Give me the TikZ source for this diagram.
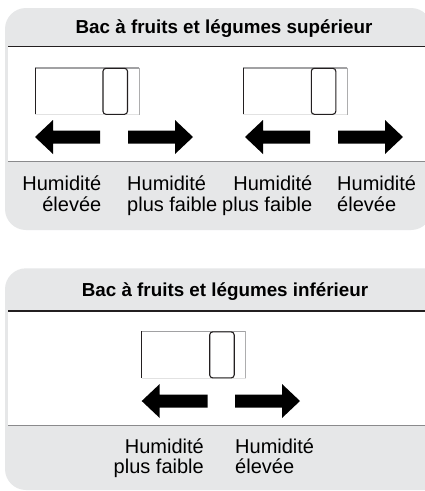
\documentclass[tikz,border=0pt]{standalone}
\usepackage{fontspec}
\setmainfont{Liberation Sans}
\definecolor{panelgray}{HTML}{E6E7E8}
\definecolor{darkline}{HTML}{231F20}
\definecolor{softline}{HTML}{8A8A8C}
\newcommand\mysliderbox[2]{%
  \draw[softline!80, line width=1.6pt] (#1,#2) -- ++(104,0);
  \draw[darkline, line width=0.7pt] (#1,#2) -- ++(0,47);
  \draw[softline!70, line width=0.7pt] (#1+104,#2) -- ++(0,47);
  \draw[softline!25, line width=0.6pt] (#1,#2+47) -- ++(104,0);
  \draw[darkline, line width=1.1pt, rounded corners=3pt] (#1+68,#2+0.6) rectangle (#1+92.5,#2+46.6);
}
\newcommand\myleftarrow[3]{% tip x, tail x, center y
  \fill[black] (#1,#3) -- (#1+18,#3-17) -- (#1+18,#3-6.5) -- (#2,#3-6.5) -- (#2,#3+6.5) -- (#1+18,#3+6.5) -- (#1+18,#3+17) -- cycle;
}
\newcommand\myrightarrow[3]{% tail x, tip x, center y
  \fill[black] (#2,#3) -- (#2-18,#3-17) -- (#2-18,#3-6.5) -- (#1,#3-6.5) -- (#1,#3+6.5) -- (#2-18,#3+6.5) -- (#2-18,#3+17) -- cycle;
}
\begin{document}
\begin{tikzpicture}[x=1pt,y=-1pt,
  title/.style={font=\bfseries\fontsize{18.8}{20}\selectfont, inner sep=0pt, anchor=base},
  lbl/.style={font=\fontsize{20}{20.3}\selectfont, inner sep=0pt},
  lblr/.style={lbl, align=right, anchor=base east},
  lbll/.style={lbl, align=left, anchor=base west}]
\useasboundingbox (0,0) rectangle (425,491);
\fill[white] (0,0) rectangle (425,491);
% top panel
\fill[panelgray, rounded corners=21pt] (5,8) rectangle (432,230);
\fill[white] (8,46.7) rectangle (432,161);
\draw[darkline, line width=1.1pt] (8,46.7) -- (432,46.7);
\draw[softline, line width=0.9pt] (8,161) -- (432,161);
\node[title] (t1) at (224,33.5) {Bac à fruits et légumes supérieur};
\mysliderbox{35}{67.7}
\mysliderbox{243.3}{67.7}
\myleftarrow{35}{100}{137}
\myrightarrow{128}{193}{137}
\myleftarrow{245}{310}{137}
\myrightarrow{338}{403}{137}
\node[lblr] (l1) at (101.5,211) {Humidité\\élevée};
\node[lbll] (l2) at (127,211) {Humidité\\plus faible};
\node[lblr] (l3) at (312.5,211) {Humidité\\plus faible};
\node[lbll] (l4) at (337,211) {Humidité\\élevée};
% bottom panel
\fill[panelgray, rounded corners=21pt] (5,268.3) rectangle (460,490);
\fill[white] (8,311) rectangle (460,425.7);
\draw[darkline, line width=1.1pt] (8,311) -- (460,311);
\draw[softline, line width=0.9pt] (8,425.7) -- (460,425.7);
\node[title] (t2) at (225,296.7) {Bac à fruits et légumes inférieur};
\mysliderbox{141.7}{331.3}
\myleftarrow{141.7}{207.7}{401}
\myrightarrow{235}{300}{401}
\node[lblr] (l5) at (204,473.3) {Humidité\\plus faible};
\node[lbll] (l6) at (235,473.3) {Humidité\\élevée};
\end{tikzpicture}
\end{document}
